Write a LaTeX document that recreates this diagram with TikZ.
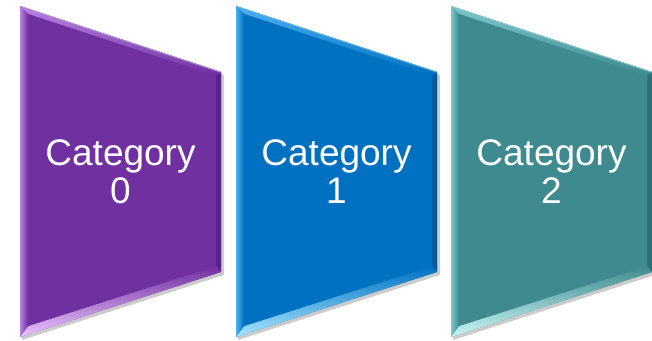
\documentclass[tikz,border=0pt]{standalone}
\usepackage{fontspec}
\setmainfont{Liberation Sans}
\definecolor{pMain}{HTML}{7030A0}\definecolor{pLight}{HTML}{B784E0}\definecolor{pHigh}{HTML}{EAC4FF}\definecolor{pDark}{HTML}{58228A}
\definecolor{bMain}{HTML}{0070C0}\definecolor{bLight}{HTML}{4FB0F0}\definecolor{bHigh}{HTML}{A8E6FF}\definecolor{bDark}{HTML}{005A9E}
\definecolor{tMain}{HTML}{3E8A8E}\definecolor{tLight}{HTML}{7CC8CC}\definecolor{tHigh}{HTML}{CAF6F6}\definecolor{tDark}{HTML}{2E6F73}
\newcommand\catshape[6]{%
 \begin{scope}[xshift=#1]
 \fill[black!20] (2,331) -- (204,265) -- (204,65) -- (2,0) -- cycle;
 \fill[#2] (0,334)--(201,268)--(201,68)--(0,3)--cycle;
 \shade[shading angle=-18, top color=#3, bottom color=#2] (0,334)--(201,268)--(196,264)--(8,326)--cycle;
 \fill[#5] (201,268)--(201,68)--(196,74)--(196,264)--cycle;
 \shade[top color=#2, bottom color=#4] (201,68)--(0,3)--(8,14)--(196,74)--cycle;
 \shade[left color=#3, right color=#2] (0,3)--(0,334)--(8,326)--(8,14)--cycle;
 \draw[#3, line width=0.8pt] (0.4,3)--(0.4,333.5)--(200.6,267.8);
 \fill[#2] (8,326)--(196,264)--(196,74)--(8,14)--cycle;
 \node[lbl] (#6) at (100.5,168) {Category\\#6};
 \end{scope}}
\begin{document}
\begin{tikzpicture}[x=1pt,y=1pt]
\tikzset{lbl/.style={text=white,font=\fontsize{37}{38}\selectfont,align=center,inner sep=0pt}}
\useasboundingbox (0,0) rectangle (652,340);
\catshape{20pt}{pMain}{pLight}{pHigh}{pDark}{0}
\catshape{236pt}{bMain}{bLight}{bHigh}{bDark}{1}
\catshape{451pt}{tMain}{tLight}{tHigh}{tDark}{2}
\end{tikzpicture}
\end{document}
